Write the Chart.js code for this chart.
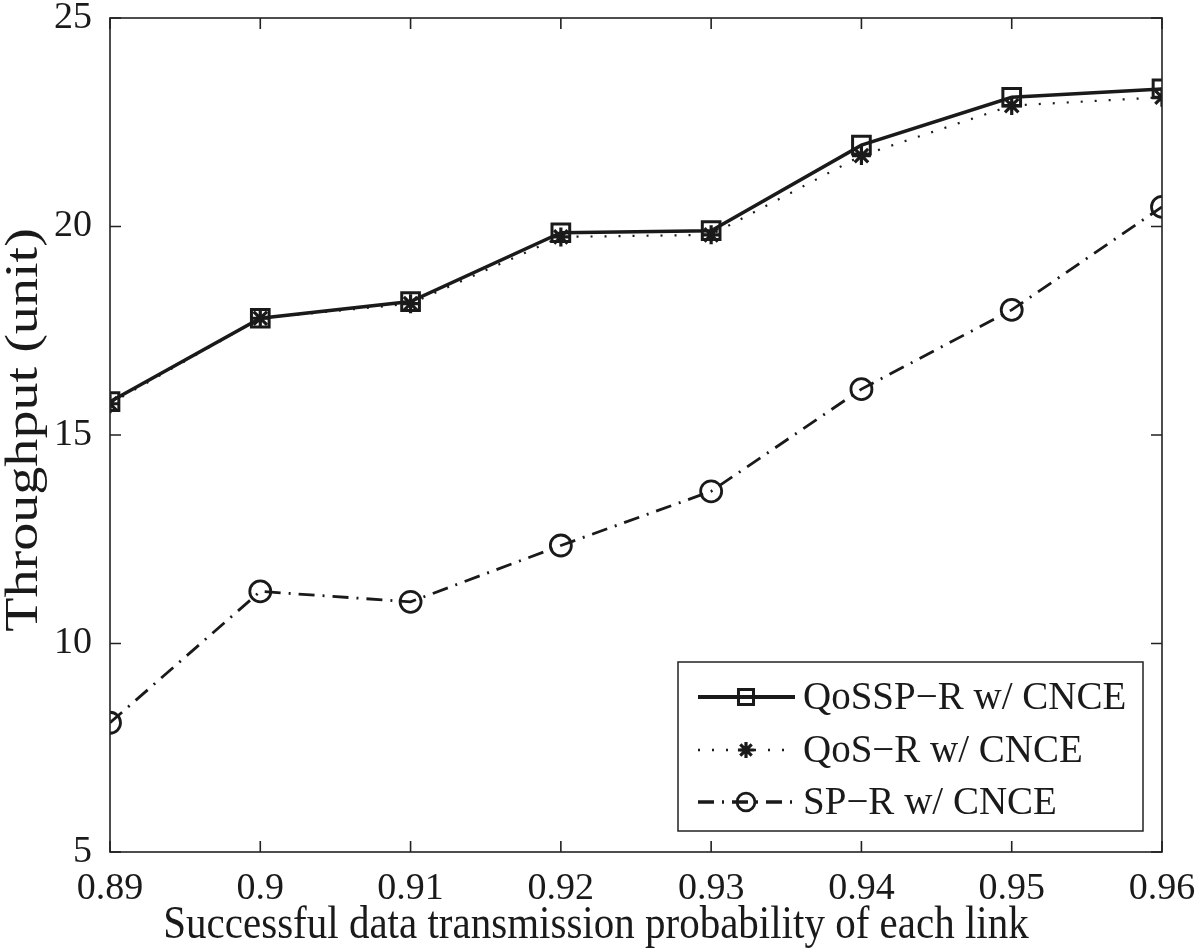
<!DOCTYPE html>
<html lang="en">
<head>
    <meta charset="UTF-8">
    <title>Throughput vs link success probability</title>
    <script src="https://cdn.jsdelivr.net/npm/chart.js"></script>
    <style>
        body { margin: 0; background: #fff; }
        #wrap { width: 1200px; height: 951px; }
    </style>
</head>
<body>
<div id="wrap"><canvas id="chart" width="1200" height="951"></canvas></div>
<script>
    // data
    const xValues = [0.89, 0.90, 0.91, 0.92, 0.93, 0.94, 0.95, 0.96];
    const qosspR = [15.8, 17.8, 18.2, 19.85, 19.9, 21.95, 23.1, 23.3];
    const qosR = [15.75, 17.8, 18.15, 19.75, 19.8, 21.7, 22.9, 23.1];
    const spR = [8.1, 11.25, 11.0, 12.35, 13.65, 16.1, 18.0, 20.47];

    const xTicks = [0.89, 0.90, 0.91, 0.92, 0.93, 0.94, 0.95, 0.96];
    const xTickLabels = ['0.89', '0.9', '0.91', '0.92', '0.93', '0.94', '0.95', '0.96'];
    const yTicks = [5, 10, 15, 20, 25];

    const seriesNames = ['QoSSP\u2212R w/ CNCE', 'QoS\u2212R w/ CNCE', 'SP\u2212R w/ CNCE'];
    const xTitle = 'Successful data transmission probability of each link';
    const yTitle = 'Throughput (unit)';

    const FONT = '"Liberation Serif", "Times New Roman", serif';
    const INK = '#1a1a1a';
    const toPts = ys => xValues.map((x, i) => ({ x: x, y: ys[i] }));

    // matlab style box with inward ticks on all sides
    const boxTicks = {
        id: 'boxTicks',
        afterDraw(chart) {
            const { ctx, chartArea: a, scales } = chart;
            const len = 11;
            ctx.save();
            ctx.strokeStyle = '#222';
            ctx.lineWidth = 1.6;
            ctx.strokeRect(a.left, a.top, a.right - a.left, a.bottom - a.top);
            ctx.beginPath();
            xTicks.forEach(v => {
                const px = scales.x.getPixelForValue(v);
                ctx.moveTo(px, a.bottom); ctx.lineTo(px, a.bottom - len);
                ctx.moveTo(px, a.top); ctx.lineTo(px, a.top + len);
            });
            yTicks.forEach(v => {
                const py = scales.y.getPixelForValue(v);
                ctx.moveTo(a.left, py); ctx.lineTo(a.left + len, py);
                ctx.moveTo(a.right, py); ctx.lineTo(a.right - len, py);
            });
            ctx.stroke();
            ctx.restore();
        }
    };

    // axis titles (the original text is a bit stretched)
    const axisTitles = {
        id: 'axisTitles',
        afterDraw(chart) {
            const ctx = chart.ctx;
            ctx.save();
            ctx.fillStyle = INK;
            ctx.textAlign = 'center';
            ctx.textBaseline = 'alphabetic';
            ctx.font = '41px ' + FONT;
            ctx.save();
            ctx.translate(596, 938);
            ctx.scale(1, 1.12);
            ctx.fillText(xTitle, 0, 0);
            ctx.restore();
            ctx.translate(37, 430);
            ctx.rotate(-Math.PI / 2);
            ctx.scale(1.22, 1);
            ctx.font = '46px ' + FONT;
            ctx.fillText(yTitle, 0, 0);
            ctx.restore();
        }
    };

    // legend box drawn like the original (line sample + marker)
    const boxLegend = {
        id: 'boxLegend',
        afterDraw(chart) {
            const ctx = chart.ctx;
            const bx = 678, by = 662, bw = 465, bh = 169;
            ctx.save();
            ctx.fillStyle = '#fff';
            ctx.fillRect(bx, by, bw, bh);
            ctx.strokeStyle = '#222';
            ctx.lineWidth = 1.5;
            ctx.strokeRect(bx, by, bw, bh);
            const rows = [697, 750, 802];
            chart.data.datasets.forEach((ds, i) => {
                const y = rows[i];
                ctx.strokeStyle = INK;
                ctx.lineWidth = ds.borderWidth + 0.5;
                ctx.setLineDash(ds.borderDash || []);
                ctx.beginPath();
                ctx.moveTo(698, y); ctx.lineTo(795, y);
                ctx.stroke();
                ctx.setLineDash([]);
                ctx.lineWidth = ds.pointBorderWidth;
                ctx.fillStyle = 'rgba(0,0,0,0)';
                Chart.helpers.drawPoint(ctx, {
                    pointStyle: ds.pointStyle, radius: ds.pointRadius * 0.85,
                    rotation: 0, borderWidth: ds.pointBorderWidth
                }, 746, y);
                ctx.fillStyle = INK;
                ctx.font = '39px ' + FONT;
                ctx.textBaseline = 'middle';
                ctx.textAlign = 'left';
                ctx.fillText(ds.label, 803, y + 2);
            });
            ctx.restore();
        }
    };

    const common = { fill: false, tension: 0, borderColor: INK, pointBorderColor: INK, pointBackgroundColor: 'rgba(0,0,0,0)' };

    new Chart(document.getElementById('chart'), {
        type: 'line',
        data: {
            datasets: [
                { ...common, label: seriesNames[0], data: toPts(qosspR), borderWidth: 3.5, pointStyle: 'rect', pointRadius: 12.5, pointBorderWidth: 3 },
                { ...common, label: seriesNames[1], data: toPts(qosR), borderWidth: 2.2, borderDash: [2, 12], pointStyle: 'star', pointRadius: 9.5, pointBorderWidth: 3.2 },
                { ...common, label: seriesNames[2], data: toPts(spR), borderWidth: 2.8, borderDash: [16, 8, 2, 8], pointStyle: 'circle', pointRadius: 10.5, pointBorderWidth: 2.8 }
            ]
        },
        options: {
            responsive: false,
            animation: false,
            devicePixelRatio: 1,
            layout: { padding: { left: 0, right: 38, top: 18, bottom: 0 } },
            plugins: { legend: { display: false }, tooltip: { enabled: false } },
            scales: {
                x: {
                    type: 'linear', min: 0.89, max: 0.96,
                    afterBuildTicks: s => { s.ticks = xTicks.map(v => ({ value: v })); },
                    afterFit: s => { s.height = 99; s.paddingLeft = 0; s.paddingRight = 0; },
                    grid: { display: false }, border: { display: false },
                    ticks: { color: INK, font: { family: FONT, size: 38 }, padding: 6, maxRotation: 0,
                             callback: (v, i) => xTickLabels[i] }
                },
                y: {
                    min: 5, max: 25,
                    afterBuildTicks: s => { s.ticks = yTicks.map(v => ({ value: v })); },
                    afterFit: s => { s.width = 110; s.paddingTop = 0; s.paddingBottom = 0; },
                    grid: { display: false }, border: { display: false },
                    ticks: { color: INK, font: { family: FONT, size: 38 }, padding: 10 }
                }
            }
        },
        plugins: [boxTicks, axisTitles, boxLegend]
    });
</script>
</body>
</html>
